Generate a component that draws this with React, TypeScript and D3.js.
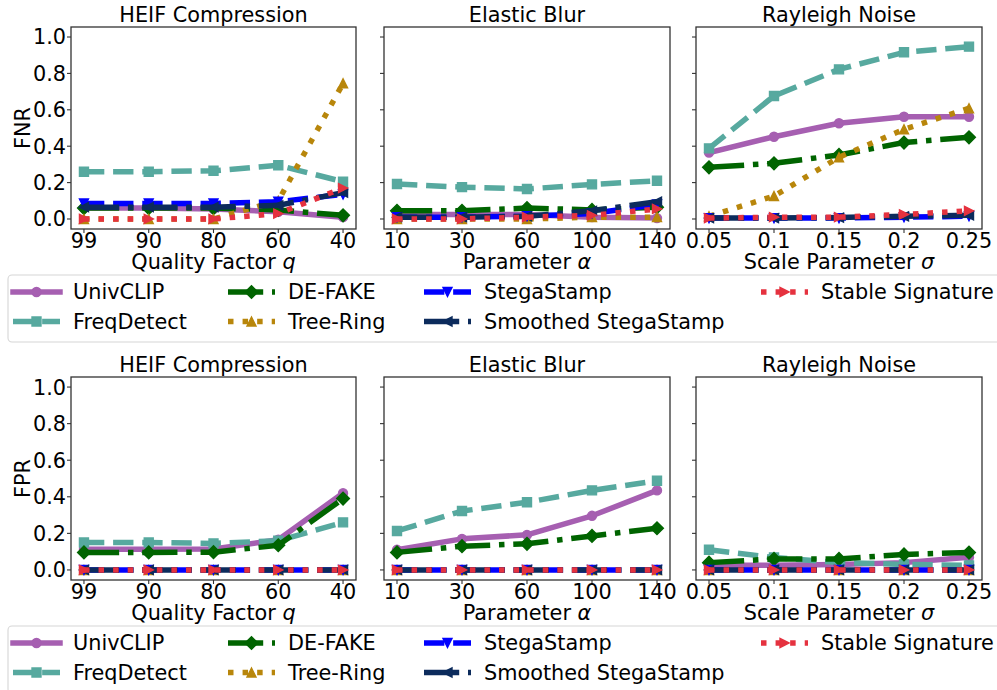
import React, { useEffect, useRef } from 'react';
import * as d3 from 'd3';

// series styling (matplotlib-like)
const seriesNames = ['UnivCLIP', 'FreqDetect', 'DE-FAKE', 'Tree-Ring', 'StegaStamp', 'Smoothed StegaStamp', 'Stable Signature'];
const seriesColors = ['#a65fb1', '#57a99f', '#006400', '#b8860b', '#0000ff', '#0c2b5c', '#e5323f'];
const seriesDash = ['solid', 'dashed', 'dashdot', 'dotted', 'dashed', 'dashdot', 'dotted'];
const seriesMarker = ['o', 's', 'D', '^', 'v', '<', '>'];

// tick labels per attack
const heifTicks = ['99', '90', '80', '60', '40'];
const blurTicks = ['10', '30', '60', '100', '140'];
const noiseTicks = ['0.05', '0.1', '0.15', '0.2', '0.25'];
const yTicks = [0, 0.2, 0.4, 0.6, 0.8, 1.0];

// FNR values, one row per series (same order as seriesNames)
const fnrHeif = [
  [0.06, 0.06, 0.055, 0.04, 0.01],
  [0.26, 0.26, 0.265, 0.295, 0.205],
  [0.06, 0.06, 0.06, 0.05, 0.02],
  [0.0, 0.0, 0.0, 0.1, 0.745],
  [0.085, 0.085, 0.085, 0.095, 0.135],
  [0.065, 0.065, 0.065, 0.075, 0.145],
  [0.0, 0.0, 0.0, 0.03, 0.17],
];
const fnrBlur = [
  [0.025, 0.025, 0.025, 0.01, 0.005],
  [0.192, 0.175, 0.165, 0.19, 0.21],
  [0.045, 0.045, 0.06, 0.05, 0.065],
  [0.0, 0.0, 0.0, 0.01, 0.01],
  [0.01, 0.01, 0.015, 0.03, 0.08],
  [0.01, 0.01, 0.015, 0.045, 0.095],
  [0.0, 0.0, 0.01, 0.02, 0.055],
];
const fnrNoise = [
  [0.365, 0.452, 0.526, 0.562, 0.562],
  [0.388, 0.676, 0.822, 0.916, 0.947],
  [0.284, 0.306, 0.352, 0.42, 0.449],
  [0.015, 0.126, 0.339, 0.493, 0.608],
  [0.005, 0.005, 0.005, 0.01, 0.015],
  [0.005, 0.005, 0.008, 0.015, 0.02],
  [0.005, 0.01, 0.01, 0.025, 0.045],
];

// FPR values
const fprHeif = [
  [0.113, 0.113, 0.115, 0.165, 0.42],
  [0.15, 0.15, 0.145, 0.16, 0.26],
  [0.096, 0.096, 0.097, 0.135, 0.39],
  [0, 0, 0, 0, 0],
  [0, 0, 0, 0, 0],
  [0, 0, 0, 0, 0],
  [0, 0, 0, 0, 0],
];
const fprBlur = [
  [0.11, 0.17, 0.192, 0.296, 0.435],
  [0.213, 0.322, 0.37, 0.435, 0.488],
  [0.096, 0.13, 0.143, 0.186, 0.228],
  [0, 0, 0, 0, 0],
  [0, 0, 0, 0, 0],
  [0, 0, 0, 0, 0],
  [0, 0, 0, 0, 0],
];
const fprNoise = [
  [0.025, 0.025, 0.03, 0.04, 0.07],
  [0.11, 0.068, 0.04, 0.03, 0.025],
  [0.04, 0.06, 0.06, 0.085, 0.095],
  [0, 0, 0, 0, 0],
  [0, 0, 0, 0, 0],
  [0, 0, 0, 0, 0],
  [0, 0, 0, 0, 0],
];

const titles = ['HEIF Compression', 'Elastic Blur', 'Rayleigh Noise'];
const xLabels = [['Quality Factor ', 'q'], ['Parameter ', 'α'], ['Scale Parameter ', 'σ']];
const xTickSets = [heifTicks, blurTicks, noiseTicks];
const rowData = [[fnrHeif, fnrBlur, fnrNoise], [fprHeif, fprBlur, fprNoise]];
const rowLabels = ['FNR', 'FPR'];

const W = 997, H = 690;
const FONT = 20.8;
const LW = 5.5;
const MS = 9;

function dashFor(style) {
  if (style === 'dashed') return `${3.7 * LW},${1.6 * LW}`;
  if (style === 'dashdot') return `${6.4 * LW},${1.6 * LW},${LW},${1.6 * LW}`;
  if (style === 'dotted') return `${LW},${1.65 * LW}`;
  return null;
}

function markerPath(type, m) {
  const h = m / 2;
  const d = m * Math.SQRT1_2;
  switch (type) {
    case 's': return `M${-h},${-h}H${h}V${h}H${-h}Z`;
    case 'D': return `M0,${-d}L${d},0L0,${d}L${-d},0Z`;
    case '^': return `M0,${-h}L${h},${h}L${-h},${h}Z`;
    case 'v': return `M0,${h}L${h},${-h}L${-h},${-h}Z`;
    case '<': return `M${-h},0L${h},${-h}L${h},${h}Z`;
    case '>': return `M${h},0L${-h},${-h}L${-h},${h}Z`;
    default: return d3.symbol(d3.symbolCircle, Math.PI * h * h)();
  }
}

function drawMarker(g, type, x, y, color) {
  g.append('path')
    .attr('d', markerPath(type, MS))
    .attr('transform', `translate(${x},${y})`)
    .attr('fill', color)
    .attr('stroke', color)
    .attr('stroke-width', 1.4)
    .attr('stroke-linejoin', 'miter');
}

export default function App() {
  const svgNode = useRef(null);

  useEffect(() => {
    const svg = d3.select(svgNode.current);
    svg.selectAll('*').remove();

    const colLeft = [71, 384, 696];
    const colRight = [356, 670, 982];
    const rowTop = [27, 377];
    const rowBottom = [229, 580];
    const legendTop = [275, 626];

    rowData.forEach((panels, r) => {
      const y = d3.scaleLinear().domain([-0.055, 1.055]).range([rowBottom[r], rowTop[r]]);

      panels.forEach((data, c) => {
        const x = d3.scaleLinear().domain([-0.2, 4.2]).range([colLeft[c], colRight[c]]);
        const g = svg.append('g');
        const clipId = `clip-${r}-${c}`;
        g.append('clipPath').attr('id', clipId)
          .append('rect')
          .attr('x', colLeft[c]).attr('y', rowTop[r])
          .attr('width', colRight[c] - colLeft[c]).attr('height', rowBottom[r] - rowTop[r]);

        //lines and markers
        const plot = g.append('g').attr('clip-path', `url(#${clipId})`);
        const line = d3.line().x((d, i) => x(i)).y(d => y(d));
        data.forEach((vals, s) => {
          const dash = dashFor(seriesDash[s]);
          plot.append('path')
            .attr('d', line(vals))
            .attr('fill', 'none')
            .attr('stroke', seriesColors[s])
            .attr('stroke-width', LW)
            .attr('stroke-linejoin', 'round')
            .attr('stroke-linecap', dash ? 'butt' : 'square')
            .attr('stroke-dasharray', dash);
          vals.forEach((v, i) => drawMarker(plot, seriesMarker[s], x(i), y(v), seriesColors[s]));
        });

        //frame
        g.append('rect')
          .attr('x', colLeft[c]).attr('y', rowTop[r])
          .attr('width', colRight[c] - colLeft[c]).attr('height', rowBottom[r] - rowTop[r])
          .attr('fill', 'none').attr('stroke', '#333').attr('stroke-width', 1.3);

        //y ticks
        yTicks.forEach(t => {
          g.append('line')
            .attr('x1', colLeft[c] - 4).attr('x2', colLeft[c])
            .attr('y1', y(t)).attr('y2', y(t))
            .attr('stroke', '#333').attr('stroke-width', 1.1);
          if (c === 0) {
            g.append('text')
              .attr('x', colLeft[c] - 5).attr('y', y(t)).attr('dy', '0.36em')
              .attr('text-anchor', 'end').attr('font-size', FONT)
              .text(t.toFixed(1));
          }
        });

        //x ticks
        xTickSets[c].forEach((t, i) => {
          g.append('line')
            .attr('x1', x(i)).attr('x2', x(i))
            .attr('y1', rowBottom[r]).attr('y2', rowBottom[r] + 4)
            .attr('stroke', '#333').attr('stroke-width', 1.1);
          g.append('text')
            .attr('x', x(i)).attr('y', rowBottom[r] + 19)
            .attr('text-anchor', 'middle').attr('font-size', FONT)
            .text(t);
        });

        //title and x label
        const cx = (colLeft[c] + colRight[c]) / 2;
        g.append('text')
          .attr('x', cx).attr('y', rowTop[r] - 5.5)
          .attr('text-anchor', 'middle').attr('font-size', FONT)
          .text(titles[c]);
        const xl = g.append('text')
          .attr('x', cx).attr('y', rowBottom[r] + 39.5)
          .attr('text-anchor', 'middle').attr('font-size', FONT);
        xl.append('tspan').text(xLabels[c][0]);
        xl.append('tspan').attr('font-style', 'italic').text(xLabels[c][1]);
      });

      //row y label
      svg.append('text')
        .attr('transform', `translate(22,${(rowTop[r] + rowBottom[r]) / 2}) rotate(-90)`)
        .attr('dy', '0.36em')
        .attr('text-anchor', 'middle').attr('font-size', FONT)
        .text(rowLabels[r]);

      //legend
      const lg = svg.append('g');
      const top = legendTop[r];
      lg.append('rect')
        .attr('x', 8).attr('y', top).attr('width', 1010).attr('height', 67)
        .attr('rx', 4).attr('fill', 'white').attr('fill-opacity', 0.8)
        .attr('stroke', '#d6d6d6').attr('stroke-width', 1.1);
      const colX = [13, 228, 424, 761];
      seriesNames.forEach((name, s) => {
        const x0 = colX[Math.floor(s / 2)];
        const ly = top + 17 + (s % 2) * 29.5;
        const dash = dashFor(seriesDash[s]);
        lg.append('line')
          .attr('x1', x0).attr('x2', x0 + 47).attr('y1', ly).attr('y2', ly)
          .attr('stroke', seriesColors[s]).attr('stroke-width', LW)
          .attr('stroke-linecap', dash ? 'butt' : 'square')
          .attr('stroke-dasharray', dash);
        drawMarker(lg, seriesMarker[s], x0 + 23.5, ly, seriesColors[s]);
        lg.append('text')
          .attr('x', x0 + 60).attr('y', ly).attr('dy', '0.36em')
          .attr('font-size', FONT)
          .text(name);
      });
    });
  }, []);

  return (
    <svg ref={svgNode} width={W} height={H}
      style={{ position: 'absolute', left: 0, top: 0, fontFamily: 'DejaVu Sans', background: 'white' }} />
  );
}
